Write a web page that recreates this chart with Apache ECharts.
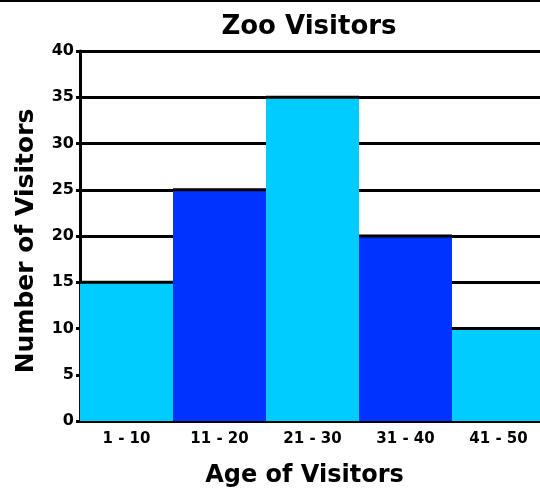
<!DOCTYPE html>
<html>
<head>
<meta charset="utf-8">
<title>Zoo Visitors</title>
<script src="https://cdn.jsdelivr.net/npm/echarts@6/dist/echarts.min.js"></script>
<style>
  html, body { margin: 0; padding: 0; background: #fff; }
  #chart { width: 540px; height: 495px; }
</style>
</head>
<body>
<div id="chart"></div>
<script>
// data
var ageGroups = ["1 - 10", "11 - 20", "21 - 30", "31 - 40", "41 - 50"];
var visitors = [15, 25, 35, 20, 10];
var yTicks = [0, 5, 10, 15, 20, 25, 30, 35, 40];

var lightBlue = "#00ccff";
var darkBlue = "#0033ff";
var font = "DejaVu Sans";

var chart = echarts.init(document.getElementById("chart"));

chart.setOption({
  animation: false,
  backgroundColor: "#fff",
  title: {
    text: "Zoo Visitors",
    left: 304,
    top: 9,
    textAlign: "center",
    textStyle: { fontFamily: font, fontWeight: "bold", fontSize: 26, color: "#000" }
  },
  graphic: [{
    type: "rect",
    left: 0,
    top: 0,
    shape: { width: 540, height: 2 },
    style: { fill: "#000" }
  }],
  // the last bar runs off the right edge of the picture
  // width 465 keeps every bar edge on a whole pixel (no gridline seams)
  grid: { left: 80, top: 51, width: 465, height: 370, outerBoundsMode: "none" },
  xAxis: {
    type: "category",
    data: ageGroups,
    name: "Age of Visitors",
    nameLocation: "middle",
    nameGap: 43,
    nameTextStyle: { fontFamily: font, fontWeight: "bold", fontSize: 24, color: "#000", padding: [0, 16, 0, 0] },
    axisLine: { lineStyle: { color: "#000", width: 3 } },
    axisTick: { show: false },
    axisLabel: { fontFamily: font, fontWeight: "bold", fontSize: 15, color: "#000", margin: 11 },
    splitLine: { show: false }
  },
  yAxis: {
    type: "value",
    min: yTicks[0],
    max: yTicks[yTicks.length - 1],
    interval: yTicks[1] - yTicks[0],
    name: "Number of Visitors",
    nameLocation: "middle",
    nameGap: 41,
    nameTextStyle: { fontFamily: font, fontWeight: "bold", fontSize: 25, color: "#000", padding: [0, 10, 0, 0] },
    axisLine: { show: true, lineStyle: { color: "#000", width: 3 } },
    axisTick: { show: true, length: 4, lineStyle: { color: "#000", width: 3 } },
    axisLabel: { fontFamily: font, fontWeight: "bold", fontSize: 16, color: "#000", margin: 6 },
    splitLine: { show: true, lineStyle: { color: "#000", width: 3 } }
  },
  series: [
    {
      type: "bar",
      data: visitors.map(function (v, i) {
        return { value: v, itemStyle: { color: i % 2 === 0 ? lightBlue : darkBlue } };
      }),
      barCategoryGap: 0,
      z: 2
    },
    {
      // black edge along the top of each bar
      type: "custom",
      data: visitors.map(function (v, i) { return [i, v]; }),
      z: 3,
      renderItem: function (params, api) {
        var p = api.coord([api.value(0), api.value(1)]);
        var w = api.size([1, 0])[0];
        return {
          type: "line",
          shape: { x1: p[0] - w / 2, y1: p[1], x2: p[0] + w / 2, y2: p[1] },
          style: { stroke: "#000", lineWidth: 3 }
        };
      }
    }
  ]
});
</script>
</body>
</html>
